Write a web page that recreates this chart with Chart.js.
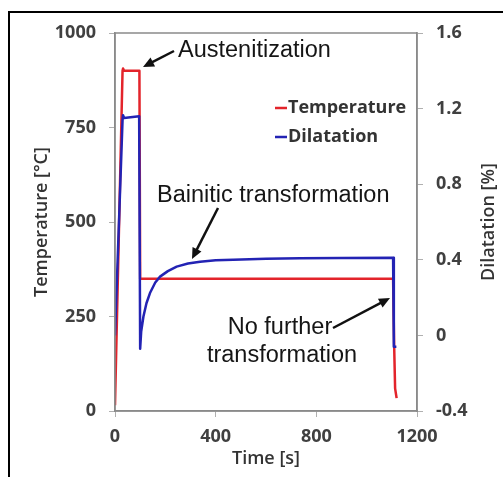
<!DOCTYPE html>
<html>
<head>
<meta charset="utf-8">
<script src="https://cdn.jsdelivr.net/npm/chart.js@4.4.1/dist/chart.umd.min.js"></script>
<style>
  body { margin: 0; background: #fff; }
  canvas { display: block; }
</style>
</head>
<body>
<canvas id="chart1" width="504" height="477"></canvas>
<script>
// values
var tempTime = [0, 30, 32, 36, 97, 100, 1105, 1109, 1113, 1119];
var tempValues = [15, 900, 906, 900, 900, 350, 350, 180, 60, 34];

var dilTime = [0, 30, 32, 36, 96, 100, 104, 113, 125, 139, 160, 179, 210, 245, 290, 338, 400, 470, 600, 735, 900, 1105, 1108, 1118];
var dilValues = [0.0, 1.14, 1.165, 1.15, 1.16, -0.07, 0.02, 0.10, 0.17, 0.224, 0.28, 0.311, 0.34, 0.364, 0.38, 0.39, 0.397, 0.40, 0.405, 0.408, 0.41, 0.411, -0.06, -0.06];

var xTicks = [0, 400, 800, 1200];
var tempTicks = [0, 250, 500, 750, 1000];
var dilTicks = [-0.4, 0, 0.4, 0.8, 1.2, 1.6];

var RED = "#e3242b";
var BLUE = "#2323b4";
var tickFont = { family: "Open Sans", size: 18, weight: "bold" };
var titleFont = { family: "Open Sans", size: 18, weight: "600" };

function toPoints(xs, ys) {
    return xs.map(function (x, i) { return { x: x, y: ys[i] }; });
}

function plainNum(v) {
    return String(v);
}

// arrow with filled head, tip at (x2,y2)
function arrow(ctx, x1, y1, x2, y2) {
    var a = Math.atan2(y2 - y1, x2 - x1);
    var len = 11;
    ctx.save();
    ctx.strokeStyle = "#111";
    ctx.fillStyle = "#111";
    ctx.lineWidth = 2.5;
    ctx.beginPath();
    ctx.moveTo(x1, y1);
    ctx.lineTo(x2 - Math.cos(a) * len * 0.8, y2 - Math.sin(a) * len * 0.8);
    ctx.stroke();
    ctx.beginPath();
    ctx.moveTo(x2, y2);
    ctx.lineTo(x2 - len * Math.cos(a) + 5 * Math.sin(a), y2 - len * Math.sin(a) - 5 * Math.cos(a));
    ctx.lineTo(x2 - len * Math.cos(a) - 5 * Math.sin(a), y2 - len * Math.sin(a) + 5 * Math.cos(a));
    ctx.closePath();
    ctx.fill();
    ctx.restore();
}

var extras = {
    id: "extras",
    afterDraw: function (chart) {
        var ctx = chart.ctx;
        var a = chart.chartArea;
        ctx.save();

        // plot box
        ctx.strokeStyle = "#8a8a8a";
        ctx.lineWidth = 1.5;
        ctx.strokeRect(a.left, a.top, a.right - a.left, a.bottom - a.top);

        // outer frame (top + left only)
        ctx.strokeStyle = "#000";
        ctx.lineWidth = 2;
        ctx.beginPath();
        ctx.moveTo(503, 12);
        ctx.lineTo(9, 12);
        ctx.lineTo(9, 477);
        ctx.stroke();

        // annotations
        ctx.fillStyle = "#151515";
        ctx.font = "23.5px 'Liberation Sans', Arial, sans-serif";
        ctx.textBaseline = "alphabetic";
        ctx.textAlign = "left";
        ctx.fillText("Austenitization", 178, 57);
        ctx.fillText("Bainitic transformation", 157, 202);
        ctx.textAlign = "center";
        ctx.fillText("No further", 280, 334);
        ctx.fillText("transformation", 282, 362);

        arrow(ctx, 174, 51, 143, 67);
        arrow(ctx, 218, 208, 192, 259);
        arrow(ctx, 333, 328, 390, 298);

        // legend
        ctx.lineWidth = 2.5;
        ctx.strokeStyle = RED;
        ctx.beginPath(); ctx.moveTo(275, 108); ctx.lineTo(287, 108); ctx.stroke();
        ctx.strokeStyle = BLUE;
        ctx.beginPath(); ctx.moveTo(275, 137); ctx.lineTo(287, 137); ctx.stroke();
        ctx.fillStyle = "#333";
        ctx.font = "bold 18px 'Open Sans'";
        ctx.textAlign = "left";
        ctx.textBaseline = "middle";
        ctx.fillText("Temperature", 288, 108);
        ctx.fillText("Dilatation", 288, 137);

        // right axis title, reads bottom to top
        ctx.translate(489, 222);
        ctx.rotate(-Math.PI / 2);
        ctx.textAlign = "center";
        ctx.font = "600 18px 'Open Sans'";
        ctx.fillText("Dilatation [%]", 0, 0);
        ctx.restore();
    }
};

new Chart(document.getElementById("chart1"), {
    type: "line",
    data: {
        datasets: [{
            label: "Dilatation",
            data: toPoints(dilTime, dilValues),
            yAxisID: "y2",
            borderColor: BLUE,
            borderWidth: 2.5,
            borderJoinStyle: "round",
            pointRadius: 0,
            tension: 0,
            order: 1
        }, {
            label: "Temperature",
            data: toPoints(tempTime, tempValues),
            yAxisID: "y",
            borderColor: RED,
            borderWidth: 2.5,
            borderJoinStyle: "round",
            pointRadius: 0,
            tension: 0,
            order: 2
        }]
    },
    options: {
        responsive: false,
        animation: false,
        devicePixelRatio: 1,
        layout: { padding: { top: 33, left: 0, right: 0, bottom: 0 } },
        plugins: { legend: { display: false }, tooltip: { enabled: false } },
        scales: {
            x: {
                type: "linear",
                min: 0, max: 1200,
                afterBuildTicks: function (s) { s.ticks = xTicks.map(function (v) { return { value: v }; }); },
                afterFit: function (s) { s.height = 66; },
                ticks: { font: tickFont, color: "#404040", padding: 9, maxRotation: 0, callback: plainNum },
                grid: { drawOnChartArea: false, tickLength: 6, color: "#b0b0b0" },
                border: { color: "#8a8a8a", width: 1.5 },
                title: { display: true, text: "Time [s]", font: titleFont, color: "#333", padding: { top: 0, bottom: 7 } }
            },
            y: {
                position: "left",
                min: 0, max: 1000,
                afterBuildTicks: function (s) { s.ticks = tempTicks.map(function (v) { return { value: v }; }); },
                afterFit: function (s) { s.width = 115; },
                ticks: { font: tickFont, color: "#404040", padding: 13, callback: plainNum },
                grid: { drawOnChartArea: false, tickLength: 6, color: "#b0b0b0" },
                border: { color: "#8a8a8a", width: 1.5 },
                title: { display: true, text: "Temperature [°C]", font: titleFont, color: "#333", padding: { top: 31, bottom: 0 } }
            },
            y2: {
                position: "right",
                min: -0.4, max: 1.6,
                afterBuildTicks: function (s) { s.ticks = dilTicks.map(function (v) { return { value: v }; }); },
                afterFit: function (s) { s.width = 87; },
                ticks: {
                    font: tickFont, color: "#404040", padding: 13,
                    callback: function (v) { return Math.abs(v) < 1e-9 ? "0" : String(Math.round(v * 10) / 10); }
                },
                grid: { drawOnChartArea: false, tickLength: 6, color: "#b0b0b0" },
                border: { color: "#8a8a8a", width: 1.5 }
            }
        }
    },
    plugins: [extras]
});
</script>
</body>
</html>
